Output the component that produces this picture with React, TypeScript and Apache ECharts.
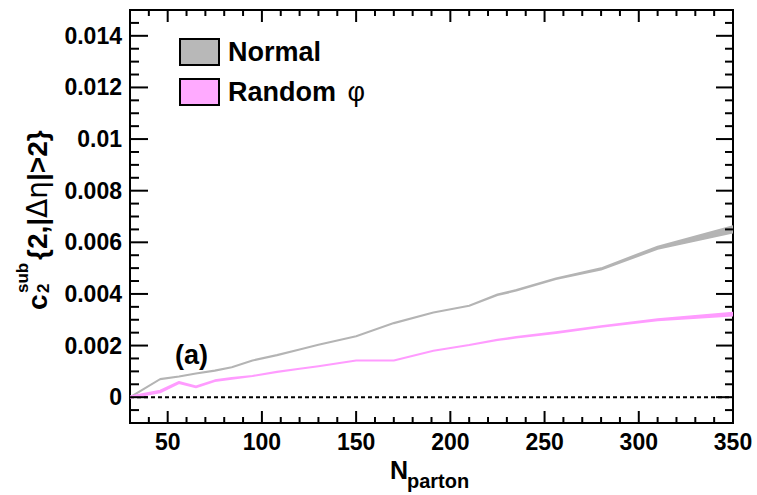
import React, { useEffect, useRef } from 'react';
import * as echarts from 'echarts';

// ---- data ----
const nParton = [30, 46, 56, 65, 75, 84, 95, 108, 120, 130, 150, 170, 191, 210, 225, 235, 256, 280, 310, 350];
const normalMean = [0.0, 0.0007, 0.0008, 0.00092, 0.00103, 0.00116, 0.00142, 0.00163, 0.00185, 0.00203, 0.00236, 0.00287, 0.00328, 0.00354, 0.00397, 0.00414, 0.00459, 0.00497, 0.00579, 0.0065];
const normalErr = [0.00001, 0.00001, 0.00001, 0.00001, 0.00001, 0.00001, 0.00001, 0.00001, 0.00001, 0.00001, 0.00001, 0.00001, 0.00001, 0.00001, 0.00002, 0.00002, 0.00002, 0.00003, 0.00005, 0.00013];
const randomMean = [0.0, 0.00022, 0.00057, 0.0004, 0.00064, 0.00073, 0.00082, 0.00098, 0.0011, 0.0012, 0.00142, 0.00142, 0.0018, 0.00202, 0.00222, 0.00232, 0.0025, 0.00274, 0.003, 0.00322];
const randomErr = [0.00003, 0.00004, 0.00003, 0.00002, 0.00002, 0.00002, 0.00001, 0.00001, 0.00001, 0.00001, 0.00001, 0.00001, 0.00001, 0.00001, 0.00001, 0.00002, 0.00002, 0.00002, 0.00003, 0.00006];
const zeroLine = [[30, 0], [350, 0]];

const xMajorTicks = [50, 100, 150, 200, 250, 300, 350];
const xMinorTicks = [40, 60, 70, 80, 90, 110, 120, 130, 140, 160, 170, 180, 190, 210, 220, 230, 240, 260, 270, 280, 290, 310, 320, 330, 340];
const yMajorTicks = [0, 0.002, 0.004, 0.006, 0.008, 0.01, 0.012, 0.014];
const yMinorTicks = [-0.0005, 0.0005, 0.001, 0.0015, 0.0025, 0.003, 0.0035, 0.0045, 0.005, 0.0055, 0.0065, 0.007, 0.0075, 0.0085, 0.009, 0.0095, 0.0105, 0.011, 0.0115, 0.0125, 0.013, 0.0135, 0.0145];

const legendNames = ['Normal', 'Random φ'];

const FONT = '"Liberation Sans", Arial, sans-serif';
const GRAY = '#b4b4b4';
const PINK = '#ff9cff';
const X_MIN = 30;
const X_MAX = 350;
const Y_MIN = -0.001;
const Y_MAX = 0.015;

const W = 757;
const H = 495;
const GRID = { left: 130, right: 24, top: 10, bottom: 72 };

function fmtY(v: number): string {
  if (Math.abs(v) < 1e-12) return '0';
  return String(parseFloat(v.toFixed(4)));
}

function bandSeries(name: string, mean: number[], err: number[], color: string, z: number) {
  return {
    name,
    type: 'custom',
    clip: true,
    z,
    itemStyle: { color },
    data: nParton.map((x, i) => [x, mean[i] - err[i], mean[i] + err[i]]),
    encode: { x: 0, y: [1, 2] },
    renderItem: (params: any, api: any) => {
      if (params.dataIndex !== 0) return null;
      const upper = nParton.map((x, i) => api.coord([x, mean[i] + err[i]]));
      const lower = nParton.map((x, i) => api.coord([x, mean[i] - err[i]])).reverse();
      return {
        type: 'polygon',
        shape: { points: upper.concat(lower) },
        style: { fill: color, stroke: color, lineWidth: 1.6, lineJoin: 'round' },
      };
    },
  };
}

// frame ticks on all four sides (ROOT style, pointing inward), placed with the grid's linear axis mapping
function frameTicks(): any[] {
  const left = GRID.left;
  const right = W - GRID.right;
  const top = GRID.top;
  const bottom = H - GRID.bottom;
  const xPix = (v: number) => left + ((v - X_MIN) / (X_MAX - X_MIN)) * (right - left);
  const yPix = (v: number) => top + ((Y_MAX - v) / (Y_MAX - Y_MIN)) * (bottom - top);
  const out: any[] = [];
  const rect = (x: number, y: number, w: number, h: number) =>
    out.push({ type: 'rect', z: 50, silent: true, shape: { x, y, width: w, height: h }, style: { fill: '#000' } });
  const vt = (v: number, len: number) => {
    const px = xPix(v);
    rect(px - 1, bottom - len, 2, len);
    rect(px - 1, top, 2, len);
  };
  const ht = (v: number, lenL: number, lenR: number) => {
    const py = yPix(v);
    rect(left, py - 1, lenL, 2);
    rect(right - lenR, py - 1, lenR, 2);
  };
  xMajorTicks.forEach((v) => vt(v, 12));
  xMinorTicks.forEach((v) => vt(v, 6));
  yMajorTicks.forEach((v) => ht(v, 18, 17));
  yMinorTicks.forEach((v) => ht(v, 9, 8));
  return out;
}

const titleGraphics: any[] = [
  {
    type: 'group', x: 37, y: 310, rotation: Math.PI / 2,
    children: [
      { type: 'text', x: 0, y: 0, style: { text: 'c', fontSize: 28, fontWeight: 'bold', fontFamily: FONT, fill: '#000', align: 'left', verticalAlign: 'middle' } },
      { type: 'text', x: 17, y: -15, style: { text: 'sub', fontSize: 17, fontWeight: 'bold', fontFamily: FONT, fill: '#000', align: 'left', verticalAlign: 'middle' } },
      { type: 'text', x: 17, y: 6, style: { text: '2', fontSize: 17, fontWeight: 'bold', fontFamily: FONT, fill: '#000', align: 'left', verticalAlign: 'middle' } },
      {
        type: 'text', x: 50, y: 0,
        style: {
          text: '{2,|{g|Δη}|>2}', fontSize: 28, fontWeight: 'bold', fontFamily: FONT, fill: '#000', align: 'left', verticalAlign: 'middle',
          rich: { g: { fontSize: 28, fontWeight: 'normal', fontFamily: '"DejaVu Sans", sans-serif', fill: '#000' } },
        },
      },
    ],
  },
  { type: 'text', x: 390, y: 470, style: { text: 'N', fontSize: 25, fontWeight: 'bold', fontFamily: FONT, fill: '#000', align: 'left', verticalAlign: 'middle' } },
  { type: 'text', x: 407, y: 481, style: { text: 'parton', fontSize: 20, fontWeight: 'bold', fontFamily: FONT, fill: '#000', align: 'left', verticalAlign: 'middle' } },
  { type: 'text', x: 175, y: 355, style: { text: '(a)', fontSize: 27, fontWeight: 'bold', fontFamily: FONT, fill: '#000', align: 'left', verticalAlign: 'middle' } },
];

export default function App() {
  const ref = useRef<HTMLDivElement>(null);
  useEffect(() => {
    if (!ref.current) return;
    const chart = echarts.init(ref.current, undefined, { renderer: 'svg' });

    const option: any = {
      animation: false,
      textStyle: { fontFamily: FONT },
      grid: {
        ...GRID,
        show: true, borderColor: '#000', borderWidth: 2, backgroundColor: 'transparent',
      },
      xAxis: {
        type: 'value', min: X_MIN, max: X_MAX, position: 'bottom',
        splitLine: { show: false },
        axisLine: { show: true, onZero: false, lineStyle: { color: '#000', width: 2 } },
        axisTick: { show: false },
        axisLabel: { show: true, customValues: xMajorTicks, margin: 7, color: '#000', fontSize: 23, fontWeight: 'bold', fontFamily: FONT },
      },
      yAxis: {
        type: 'value', min: Y_MIN, max: Y_MAX, position: 'left',
        splitLine: { show: false },
        axisLine: { show: true, onZero: false, lineStyle: { color: '#000', width: 2 } },
        axisTick: { show: false },
        axisLabel: { show: true, customValues: yMajorTicks, margin: 8, color: '#000', fontSize: 23, fontWeight: 'bold', fontFamily: FONT, formatter: fmtY },
      },
      legend: {
        orient: 'vertical',
        left: 179, top: 38,
        padding: 0,
        itemWidth: 39, itemHeight: 26, itemGap: 12,
        icon: 'rect',
        selectedMode: false,
        z: 10,
        data: [
          { name: legendNames[0], itemStyle: { color: '#b8b8b8', borderColor: '#000', borderWidth: 2 } },
          { name: legendNames[1], itemStyle: { color: '#ffaaff', borderColor: '#000', borderWidth: 2 } },
        ],
        formatter: (name: string) => (name === 'Random φ' ? 'Random {phi|φ}' : name),
        textStyle: {
          color: '#000', fontSize: 27, fontWeight: 'bold', fontFamily: FONT, padding: [0, 0, 0, 4],
          rich: { phi: { fontFamily: FONT, fontWeight: 'normal', fontSize: 27, color: '#000', padding: [0, 0, 0, 4] } },
        },
      },
      series: [
        {
          name: 'zero', type: 'line', symbol: 'none', data: zeroLine, z: 2,
          lineStyle: { color: '#000', type: [4, 3], width: 2 },
        },
        bandSeries(legendNames[0], normalMean, normalErr, GRAY, 3),
        bandSeries(legendNames[1], randomMean, randomErr, PINK, 4),
      ],
      graphic: titleGraphics.concat(frameTicks()),
    };

    chart.setOption(option);
    return () => chart.dispose();
  }, []);

  return <div ref={ref} style={{ position: 'absolute', left: 0, top: 0, width: W, height: H }} />;
}
